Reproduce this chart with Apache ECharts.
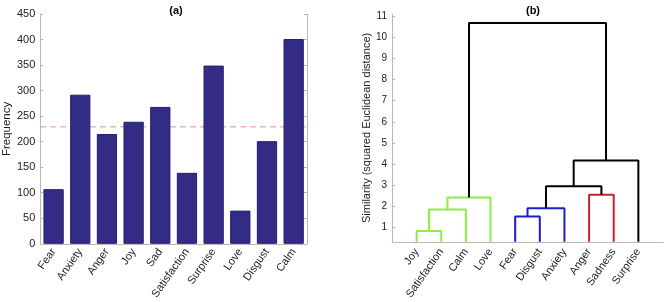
<!DOCTYPE html>
<html>
<head>
<meta charset="utf-8">
<script src="https://cdn.jsdelivr.net/npm/echarts@6/dist/echarts.min.js"></script>
<style>
    html, body { margin: 0; padding: 0; background: #fff; }
    #chart { width: 666px; height: 302px; }
</style>
</head>
<body>
<div id="chart"></div>
<script>
// (a) 情绪频次
var emotions = ['Fear', 'Anxiety', 'Anger', 'Joy', 'Sad', 'Satisfaction', 'Surprise', 'Love', 'Disgust', 'Calm'];
var frequency = [107, 292, 215, 239, 268, 139, 349, 65, 201, 401];
var freqMean = 229;
var freqTicks = [0, 50, 100, 150, 200, 250, 300, 350, 400, 450];

// (b) 聚类树 - 叶子顺序与合并(左节点, 右节点, 高度), 节点号 >= 10 为之前的合并
var leafNames = ['Joy', 'Satisfaction', 'Calm', 'Love', 'Fear', 'Disgust', 'Anxiety', 'Anger', 'Sadness', 'Surprise'];
var merges = [
    [0, 1, 0.83],
    [10, 2, 1.85],
    [11, 3, 2.42],
    [4, 5, 1.52],
    [13, 6, 1.91],
    [7, 8, 2.55],
    [14, 15, 2.95],
    [16, 9, 4.17],
    [12, 17, 10.67]
];
// 每次合并的颜色
var mergeColors = ['green', 'green', 'green', 'blue', 'blue', 'red', 'black', 'black', 'black'];
var simTicks = [1, 2, 3, 4, 5, 6, 7, 8, 9, 10, 11];

var COLORS = { green: '#8aee44', blue: '#1c1cd0', red: '#c8222f', black: '#000000' };
var FONT = 'Liberation Sans';

// 计算节点位置
var nodeX = [];
var nodeH = [];
for (var i = 0; i < leafNames.length; i++) {
    nodeX.push(i + 1);
    nodeH.push(0);
}
var linkSeries = [];
for (var j = 0; j < merges.length; j++) {
    var a = merges[j][0], b = merges[j][1], h = merges[j][2];
    linkSeries.push({
        type: 'line',
        xAxisIndex: 2,
        yAxisIndex: 2,
        symbol: 'none',
        silent: true,
        clip: false,
        lineStyle: { color: COLORS[mergeColors[j]], width: 2 },
        data: [[nodeX[a], Math.max(nodeH[a], 0.32)], [nodeX[a], h], [nodeX[b], h], [nodeX[b], Math.max(nodeH[b], 0.32)]]
    });
    nodeX.push((nodeX[a] + nodeX[b]) / 2);
    nodeH.push(h);
}

var chart = echarts.init(document.getElementById('chart'));
var grayAxis = { lineStyle: { color: '#b8b8b8', width: 1 } };
var option = {
    animation: false,
    title: [
        { text: '(a)', left: 171, top: 0, textAlign: 'center', textStyle: { fontFamily: FONT, fontSize: 11, fontWeight: 'bold', color: '#000' } },
        { text: '(b)', left: 528, top: 0, textAlign: 'center', textStyle: { fontFamily: FONT, fontSize: 11, fontWeight: 'bold', color: '#000' } }
    ],
    grid: [
        { left: 36, right: 359, top: 14, bottom: 57 },
        { left: 392, right: 3, top: 14, bottom: 57 }
    ],
    xAxis: [
        {
            type: 'category', gridIndex: 0, data: emotions,
            axisLine: grayAxis,
            axisTick: { inside: true, length: 3, alignWithLabel: true, lineStyle: { color: '#b8b8b8' } },
            axisLabel: { rotate: 55, fontFamily: FONT, fontSize: 11, color: '#222', margin: 6 }
        },
        {
            type: 'category', gridIndex: 0, data: emotions, position: 'top',
            axisLine: grayAxis,
            axisTick: { inside: true, length: 3, alignWithLabel: true, lineStyle: { color: '#b8b8b8' } },
            axisLabel: { show: false }
        },
        {
            type: 'value', gridIndex: 1, min: 0, max: 11,
            axisLine: grayAxis,
            splitLine: { show: false },
            axisTick: { show: false },
            axisLabel: {
                customValues: [1, 2, 3, 4, 5, 6, 7, 8, 9, 10],
                rotate: 55, fontFamily: FONT, fontSize: 11, color: '#222', margin: 8,
                formatter: function (v) { return leafNames[v - 1]; }
            }
        },
        {
            // 平均线用的隐藏轴
            type: 'value', gridIndex: 0, min: 0, max: 1, show: false
        }
    ],
    yAxis: [
        {
            type: 'value', gridIndex: 0, min: 0, max: 450, interval: 50,
            name: 'Frequency', nameLocation: 'middle', nameGap: 22,
            nameTextStyle: { fontFamily: FONT, fontSize: 11.5, color: '#222' },
            axisLine: { show: true, lineStyle: { color: '#b8b8b8' } },
            axisTick: { show: true, inside: true, length: 3, lineStyle: { color: '#b8b8b8' } },
            splitLine: { show: false },
            axisLabel: { fontFamily: FONT, fontSize: 11, color: '#222', margin: 5 }
        },
        {
            type: 'value', gridIndex: 0, min: 0, max: 450, interval: 50, position: 'right',
            axisLine: { show: true, lineStyle: { color: '#b8b8b8' } },
            axisTick: { show: true, inside: true, length: 3, lineStyle: { color: '#b8b8b8' } },
            splitLine: { show: false },
            axisLabel: { show: false }
        },
        {
            type: 'value', gridIndex: 1, min: 0.32, max: 11.1,
            name: 'Similarity (squared Euclidean distance)', nameLocation: 'middle', nameGap: 17,
            nameTextStyle: { fontFamily: FONT, fontSize: 11, color: '#222' },
            axisLine: { show: true, lineStyle: { color: '#b8b8b8' } },
            axisTick: { show: true, inside: true, length: 3, customValues: simTicks, lineStyle: { color: '#b8b8b8' } },
            splitLine: { show: false },
            axisLabel: { customValues: simTicks, fontFamily: FONT, fontSize: 10, color: '#222', margin: 5 }
        }
    ],
    series: [{
        type: 'bar',
        xAxisIndex: 0,
        yAxisIndex: 0,
        data: frequency,
        barWidth: '76%',
        z: 3,
        itemStyle: { color: '#322c86', borderColor: '#24206a', borderWidth: 1 }
    }, {
        type: 'line',
        xAxisIndex: 3,
        yAxisIndex: 0,
        symbol: 'none',
        silent: true,
        z: 1,
        lineStyle: { color: '#e88aa2', type: [6, 4], width: 1 },
        data: [[0, freqMean], [1, freqMean]]
    }].concat(linkSeries)
};
chart.setOption(option);
</script>
</body>
</html>
